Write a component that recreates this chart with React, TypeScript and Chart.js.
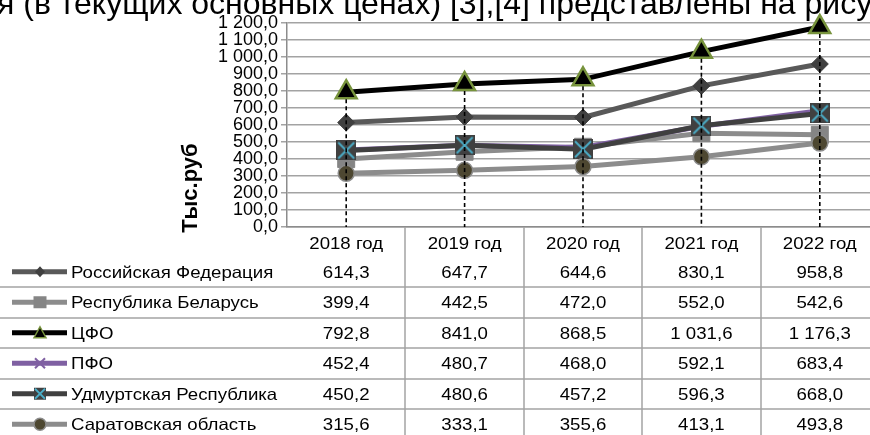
import React, { useEffect, useRef } from 'react';
import { Chart, registerables } from 'chart.js';

Chart.register(...registerables);

// ---------- data ----------
const titleText = 'я (в текущих основных ценах) [3],[4] представлены на рисунке';
const yAxisTitle = 'Тыс.руб';
const categories = ['2018 год', '2019 год', '2020 год', '2021 год', '2022 год'];
const seriesNames = [
  'Российская Федерация',
  'Республика Беларусь',
  'ЦФО',
  'ПФО',
  'Удмуртская Республика',
  'Саратовская область',
];
const valuesRF = [614.3, 647.7, 644.6, 830.1, 958.8];
const valuesRB = [399.4, 442.5, 472.0, 552.0, 542.6];
const valuesCFO = [792.8, 841.0, 868.5, 1031.6, 1176.3];
const valuesPFO = [452.4, 480.7, 468.0, 592.1, 683.4];
const valuesUdm = [450.2, 480.6, 457.2, 596.3, 668.0];
const valuesSar = [315.6, 333.1, 355.6, 413.1, 493.8];
const yMin = 0;
const yMax = 1200;
const yStep = 100;

const seriesValues = [valuesRF, valuesRB, valuesCFO, valuesPFO, valuesUdm, valuesSar];

// ---------- styles ----------
const FONT = '"Liberation Sans", Arial, sans-serif';
const lineColors = ['#595959', '#8c8c8c', '#000000', '#7f60a2', '#404040', '#8c8c8c'];
const gridColor = '#a3a3a3';
const TEXT_SX = 1.13;

function fmt(v: number): string {
  const s = Number(v).toFixed(1);
  const [i, d] = s.split('.');
  const withSp = i.replace(/\B(?=(\d{3})+(?!\d))/g, ' ');
  return withSp + ',' + d;
}

function makeUdmMarker(size: number): HTMLCanvasElement {
  const c = document.createElement('canvas');
  c.width = size;
  c.height = size;
  const g = c.getContext('2d')!;
  g.fillStyle = '#404040';
  g.fillRect(0, 0, size, size);
  g.strokeStyle = '#4bacc6';
  g.lineWidth = 2;
  g.beginPath();
  g.moveTo(2, 2);
  g.lineTo(size - 2, size - 2);
  g.moveTo(size - 2, 2);
  g.lineTo(2, size - 2);
  g.stroke();
  return c;
}

function drawLegendMarker(ctx: CanvasRenderingContext2D, idx: number, x: number, y: number) {
  ctx.save();
  ctx.setLineDash([]);
  switch (idx) {
    case 0: {
      ctx.fillStyle = '#404040';
      ctx.beginPath();
      ctx.moveTo(x, y - 5.5);
      ctx.lineTo(x + 5, y);
      ctx.lineTo(x, y + 5.5);
      ctx.lineTo(x - 5, y);
      ctx.closePath();
      ctx.fill();
      break;
    }
    case 1: {
      ctx.fillStyle = '#858585';
      ctx.fillRect(x - 6.5, y - 6, 13, 12);
      break;
    }
    case 2: {
      ctx.fillStyle = '#000';
      ctx.strokeStyle = '#77933c';
      ctx.lineWidth = 1.5;
      ctx.beginPath();
      ctx.moveTo(x, y - 6);
      ctx.lineTo(x + 6, y + 5);
      ctx.lineTo(x - 6, y + 5);
      ctx.closePath();
      ctx.fill();
      ctx.stroke();
      break;
    }
    case 3: {
      ctx.strokeStyle = '#7f60a2';
      ctx.lineWidth = 2;
      ctx.beginPath();
      ctx.moveTo(x - 5, y - 5);
      ctx.lineTo(x + 5, y + 5);
      ctx.moveTo(x + 5, y - 5);
      ctx.lineTo(x - 5, y + 5);
      ctx.stroke();
      break;
    }
    case 4: {
      ctx.fillStyle = '#404040';
      ctx.fillRect(x - 6, y - 6, 12, 12);
      ctx.strokeStyle = '#4bacc6';
      ctx.lineWidth = 1.8;
      ctx.beginPath();
      ctx.moveTo(x - 5, y - 5);
      ctx.lineTo(x + 5, y + 5);
      ctx.moveTo(x + 5, y - 5);
      ctx.lineTo(x - 5, y + 5);
      ctx.stroke();
      break;
    }
    case 5: {
      ctx.fillStyle = '#4d4731';
      ctx.strokeStyle = '#8c8c8c';
      ctx.lineWidth = 1.5;
      ctx.beginPath();
      ctx.arc(x, y, 6, 0, Math.PI * 2);
      ctx.fill();
      ctx.stroke();
      break;
    }
  }
  ctx.restore();
}

function fillTextStretched(
  ctx: CanvasRenderingContext2D,
  text: string,
  x: number,
  y: number,
  align: 'left' | 'center',
) {
  ctx.save();
  ctx.translate(x, y);
  ctx.scale(TEXT_SX, 1);
  ctx.textAlign = align;
  ctx.fillText(text, 0, 0);
  ctx.restore();
}

const tablePlugin = {
  id: 'dataTable',
  afterDatasetsDraw(chart: any) {
    const ctx: CanvasRenderingContext2D = chart.ctx;
    const xs = chart.scales.x;
    const ys = chart.scales.y;
    const bottom = chart.chartArea.bottom;
    ctx.save();
    ctx.strokeStyle = '#000';
    ctx.lineWidth = 1.6;
    ctx.setLineDash([4, 3]);
    categories.forEach((_, i) => {
      let mx = -Infinity;
      seriesValues.forEach((arr) => {
        if (arr[i] > mx) mx = arr[i];
      });
      const px = xs.getPixelForValue(i);
      ctx.beginPath();
      ctx.moveTo(px, ys.getPixelForValue(mx));
      ctx.lineTo(px, bottom);
      ctx.stroke();
    });
    ctx.restore();
  },
  afterDraw(chart: any) {
    const ctx: CanvasRenderingContext2D = chart.ctx;
    const xs = chart.scales.x;
    const top = chart.chartArea.bottom;
    const W = chart.width;
    const H = chart.height;
    const headerH = 29.5;
    const rowH = 30.5;
    const cw = xs.getPixelForValue(1) - xs.getPixelForValue(0);
    const fs = 16.5;
    ctx.save();
    // grid of table
    ctx.strokeStyle = gridColor;
    ctx.lineWidth = 1.5;
    for (let i = 0; i < categories.length; i++) {
      const bx = Math.round(xs.getPixelForValue(i) + cw / 2);
      ctx.beginPath();
      ctx.moveTo(bx, top);
      ctx.lineTo(bx, H);
      ctx.stroke();
    }
    for (let r = 1; r < seriesNames.length; r++) {
      const y = Math.round(top + headerH + rowH * r);
      ctx.beginPath();
      ctx.moveTo(0, y);
      ctx.lineTo(W, y);
      ctx.stroke();
    }
    // header
    ctx.fillStyle = '#000';
    ctx.font = `${fs}px ${FONT}`;
    ctx.textBaseline = 'alphabetic';
    const capOff = fs * 0.36;
    categories.forEach((c, i) => {
      fillTextStretched(ctx, c, xs.getPixelForValue(i), top + headerH / 2 + capOff + 1.5, 'center');
    });
    // rows
    seriesNames.forEach((name, r) => {
      const cy = top + headerH + rowH * r + rowH / 2;
      ctx.save();
      ctx.strokeStyle = lineColors[r];
      ctx.lineWidth = 5;
      ctx.beginPath();
      ctx.moveTo(12, cy);
      ctx.lineTo(67, cy);
      ctx.stroke();
      ctx.restore();
      drawLegendMarker(ctx, r, 40, cy);
      fillTextStretched(ctx, name, 71, cy + capOff, 'left');
      seriesValues[r].forEach((v, i) => {
        fillTextStretched(ctx, fmt(v), xs.getPixelForValue(i), cy + capOff, 'center');
      });
    });
    // y axis title
    ctx.save();
    ctx.translate(197, 188);
    ctx.rotate(-Math.PI / 2);
    ctx.font = `bold 22px ${FONT}`;
    ctx.textAlign = 'center';
    ctx.fillText(yAxisTitle, 0, 0);
    ctx.restore();
    ctx.restore();
  },
};

export default function App() {
  const ref = useRef<HTMLCanvasElement | null>(null);

  useEffect(() => {
    if (!ref.current) return;
    const udm = makeUdmMarker(20);
    const chart = new Chart(ref.current, {
      type: 'line',
      data: {
        labels: categories,
        datasets: [
          {
            label: seriesNames[0],
            data: valuesRF,
            borderColor: lineColors[0],
            borderWidth: 5,
            pointStyle: 'rectRot',
            pointRadius: 8.5,
            pointBackgroundColor: '#404040',
            pointBorderColor: '#404040',
            pointBorderWidth: 1,
            order: 5,
            clip: false,
          },
          {
            label: seriesNames[1],
            data: valuesRB,
            borderColor: lineColors[1],
            borderWidth: 5,
            pointStyle: 'rect',
            pointRadius: 12,
            pointBackgroundColor: '#858585',
            pointBorderColor: '#858585',
            pointBorderWidth: 1,
            order: 4,
            clip: false,
          },
          {
            label: seriesNames[2],
            data: valuesCFO,
            borderColor: lineColors[2],
            borderWidth: 5,
            pointStyle: 'triangle',
            pointRadius: 12,
            pointBackgroundColor: '#000000',
            pointBorderColor: '#77933c',
            pointBorderWidth: 2.5,
            order: 3,
            clip: false,
          },
          {
            label: seriesNames[3],
            data: valuesPFO,
            borderColor: lineColors[3],
            borderWidth: 5,
            pointStyle: 'crossRot',
            pointRadius: 9,
            pointBackgroundColor: '#7f60a2',
            pointBorderColor: '#7f60a2',
            pointBorderWidth: 2,
            order: 2,
            clip: false,
          },
          {
            label: seriesNames[4],
            data: valuesUdm,
            borderColor: lineColors[4],
            borderWidth: 5,
            pointStyle: udm as any,
            pointRadius: 10,
            order: 1,
            clip: false,
          },
          {
            label: seriesNames[5],
            data: valuesSar,
            borderColor: lineColors[5],
            borderWidth: 5,
            pointStyle: 'circle',
            pointRadius: 8,
            pointBackgroundColor: '#4d4731',
            pointBorderColor: '#8c8c8c',
            pointBorderWidth: 1.5,
            order: 0,
            clip: false,
          },
        ] as any,
      },
      options: {
        animation: false,
        responsive: false,
        devicePixelRatio: 1,
        layout: { autoPadding: false, padding: { top: 23, right: 1, left: 0, bottom: 0 } },
        elements: { line: { tension: 0 } },
        plugins: { legend: { display: false }, tooltip: { enabled: false }, title: { display: false } },
        events: [],
        scales: {
          x: {
            offset: true,
            ticks: { display: false },
            grid: { display: false },
            border: { display: true, color: '#8c8c8c', width: 1.5 },
            afterFit: (s: any) => {
              s.height = 208;
              s.paddingLeft = 0;
              s.paddingRight = 0;
            },
          },
          y: {
            min: yMin,
            max: yMax,
            ticks: {
              stepSize: yStep,
              autoSkip: false,
              color: '#000',
              padding: 3,
              font: { family: FONT, size: 18 },
              callback: (v: any) => fmt(Number(v)),
            },
            grid: { color: gridColor, lineWidth: 1.5, tickLength: 6, drawTicks: true },
            border: { display: true, color: '#8c8c8c', width: 1.5 },
            afterFit: (s: any) => {
              s.width = 287;
            },
          },
        },
      },
      plugins: [tablePlugin],
    } as any);
    return () => chart.destroy();
  }, []);

  return (
    <div
      style={{
        position: 'fixed',
        left: 0,
        top: 0,
        width: 870,
        height: 435,
        overflow: 'hidden',
        background: '#fff',
      }}
    >
      <canvas ref={ref} width={880} height={435} style={{ display: 'block', width: 880, height: 435 }} />
      <div
        style={{
          position: 'absolute',
          left: -3,
          top: -13,
          fontFamily: FONT,
          fontSize: 32,
          lineHeight: '32px',
          whiteSpace: 'nowrap',
          color: '#000',
        }}
      >
        {titleText}
      </div>
    </div>
  );
}
